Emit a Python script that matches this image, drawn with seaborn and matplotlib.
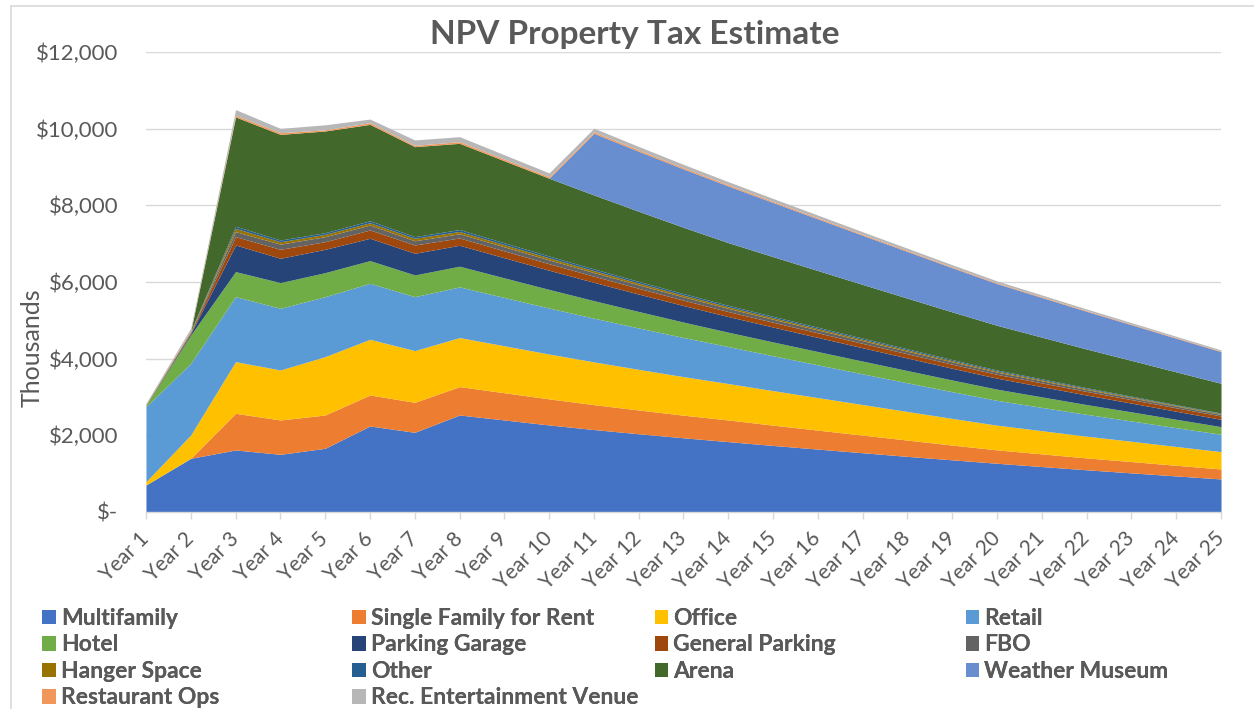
import matplotlib.pyplot as plt
from matplotlib.patches import Patch
from matplotlib.lines import Line2D
from matplotlib.ticker import FuncFormatter
import seaborn as sns

# ---------------------------------------------
# Data (thousands of $)
# ---------------------------------------------
years = ["Year %d" % i for i in range(1, 26)]

multifamily = [704, 1400, 1617, 1504, 1661, 2243, 2078, 2530, 2400, 2270, 2150, 2040, 1935,
               1835, 1735, 1640, 1545, 1450, 1360, 1270, 1185, 1100, 1020, 940, 861]
single_family = [0, 0, 957, 896, 869, 809, 783, 740, 710, 680, 650, 620, 590,
                 565, 530, 495, 460, 425, 385, 350, 330, 310, 295, 278, 261]
office = [86, 609, 1348, 1304, 1522, 1453, 1348, 1280, 1225, 1170, 1115, 1060, 1005,
          950, 900, 848, 797, 746, 695, 644, 605, 567, 529, 490, 452]
retail = [1957, 1869, 1695, 1609, 1565, 1460, 1408, 1321, 1260, 1200, 1140, 1080, 1022,
          965, 910, 855, 800, 748, 697, 647, 608, 569, 530, 491, 452]
hotel = [30, 739, 653, 670, 627, 592, 566, 540, 512, 485, 457, 429, 401,
         374, 360, 346, 333, 319, 305, 292, 274, 255, 237, 218, 200]
parking_garage = [10, 40, 695, 635, 608, 583, 565, 547, 524, 501, 478, 455, 432,
                  409, 389, 369, 348, 328, 307, 287, 268, 249, 229, 210, 191]
general_parking = [5, 30, 218, 234, 200, 217, 217, 190, 180, 170, 160, 150, 140,
                   130, 125, 120, 115, 110, 105, 100, 97, 94, 91, 89, 87]
fbo = [2, 15, 130, 135, 130, 128, 110, 110, 105, 100, 95, 90, 86,
       82, 78, 74, 70, 66, 62, 58, 54, 50, 47, 44, 41]
hanger = [1, 10, 85, 62, 61, 61, 65, 60, 57, 54, 51, 48, 45,
          43, 40, 38, 35, 33, 31, 29, 27, 25, 23, 21, 19]
other = [1, 8, 55, 45, 43, 52, 43, 50, 48, 46, 44, 42, 40,
         38, 36, 34, 32, 30, 28, 26, 24, 22, 20, 18, 16]
arena = [0, 0, 2852, 2756, 2653, 2513, 2347, 2249, 2140, 2030, 1930, 1830, 1730,
         1635, 1557, 1479, 1400, 1322, 1244, 1166, 1088, 1010, 933, 855, 777]
weather_museum = [0, 0, 0, 0, 0, 0, 0, 0, 0, 0, 1608, 1565, 1522,
                  1478, 1413, 1348, 1283, 1218, 1153, 1088, 1036, 983, 931, 878, 826]
restaurant = [15, 20, 44, 44, 30, 44, 35, 44, 42, 40, 38, 36, 34,
              32, 30, 28, 26, 24, 22, 20, 19, 18, 17, 16, 15]
rec_venue = [25, 60, 148, 113, 131, 95, 140, 130, 115, 100, 95, 90, 85,
             80, 75, 70, 65, 60, 55, 50, 46, 42, 38, 34, 30]

names = ["Multifamily", "Single Family for Rent", "Office", "Retail", "Hotel",
         "Parking Garage", "General Parking", "FBO", "Hanger Space", "Other",
         "Arena", "Weather Museum", "Restaurant Ops", "Rec. Entertainment Venue"]
series = [multifamily, single_family, office, retail, hotel, parking_garage,
          general_parking, fbo, hanger, other, arena, weather_museum,
          restaurant, rec_venue]
colors = ["#4472C4", "#ED7D31", "#FFC000", "#5B9BD5", "#70AD47", "#264478",
          "#9E480E", "#636363", "#997300", "#255E91", "#43682B", "#698ED0",
          "#F1975A", "#B7B7B7"]

# ---------------------------------------------
# Plot
# ---------------------------------------------
sns.set_theme(style="white")
plt.rcParams["font.family"] = ["Lato", "DejaVu Sans"]
txt = "#595959"
grid_c = "#D9D9D9"

fig = plt.figure(figsize=(12.54, 7.09), dpi=100)
ax = fig.add_axes([0.1164, 0.2779, 0.8573, 0.6488])

x = list(range(len(years)))
ax.stackplot(x, *series, colors=sns.color_palette(colors), linewidth=0)

ax.set_xlim(0, len(years) - 1)
ax.set_ylim(0, 12000)
ax.set_yticks(range(0, 12001, 2000))
ax.yaxis.set_major_formatter(FuncFormatter(lambda v, p: "$-" if v == 0 else "${:,.0f}".format(v)))
ax.grid(axis="y", color=grid_c, linewidth=1.0)
ax.grid(axis="x", visible=False)
ax.set_axisbelow(True)

ax.set_xticks(x)
ax.set_xticklabels(years, rotation=45, ha="right", va="center", rotation_mode="anchor")
ax.tick_params(axis="x", which="major", direction="out", length=5, width=1, color=grid_c,
               pad=12, labelsize=15, labelcolor=txt, bottom=True)
ax.tick_params(axis="y", length=0, pad=20, labelsize=16, labelcolor=txt)

sns.despine(ax=ax, left=True, top=True, right=True)
ax.spines["bottom"].set_color(grid_c)
ax.spines["bottom"].set_linewidth(1.0)

ax.set_ylabel("Thousands", fontsize=18, color=txt)
ax.yaxis.set_label_coords(-0.095, 0.357)
fig.text(0.506, 0.951, "NPV Property Tax Estimate", ha="center", va="center",
         fontsize=24, fontweight="bold", color=txt)

# chart-area border (left and top edges visible)
fig.add_artist(Line2D([0.009, 0.009], [0.0, 0.992], transform=fig.transFigure, color=grid_c, lw=1.2))
fig.add_artist(Line2D([0.009, 1.0], [0.992, 0.992], transform=fig.transFigure, color=grid_c, lw=1.2))

# legend: 4 columns, filled row by row like Excel
col_x = [0.0335, 0.281, 0.522, 0.770]
for c in range(4):
    idx = list(range(c, len(names), 4))
    handles = [Patch(facecolor=colors[i], edgecolor="none") for i in idx]
    leg = fig.legend(handles, [names[i] for i in idx], loc="upper left",
                     bbox_to_anchor=(col_x[c], 0.1425), frameon=False,
                     prop={"size": 16.5, "weight": "bold"}, labelcolor=txt,
                     handlelength=0.6, handleheight=0.6, handletextpad=0.22,
                     labelspacing=0.24, borderpad=0, borderaxespad=0)
    fig.add_artist(leg)

fig.savefig("out.png", dpi=100)
